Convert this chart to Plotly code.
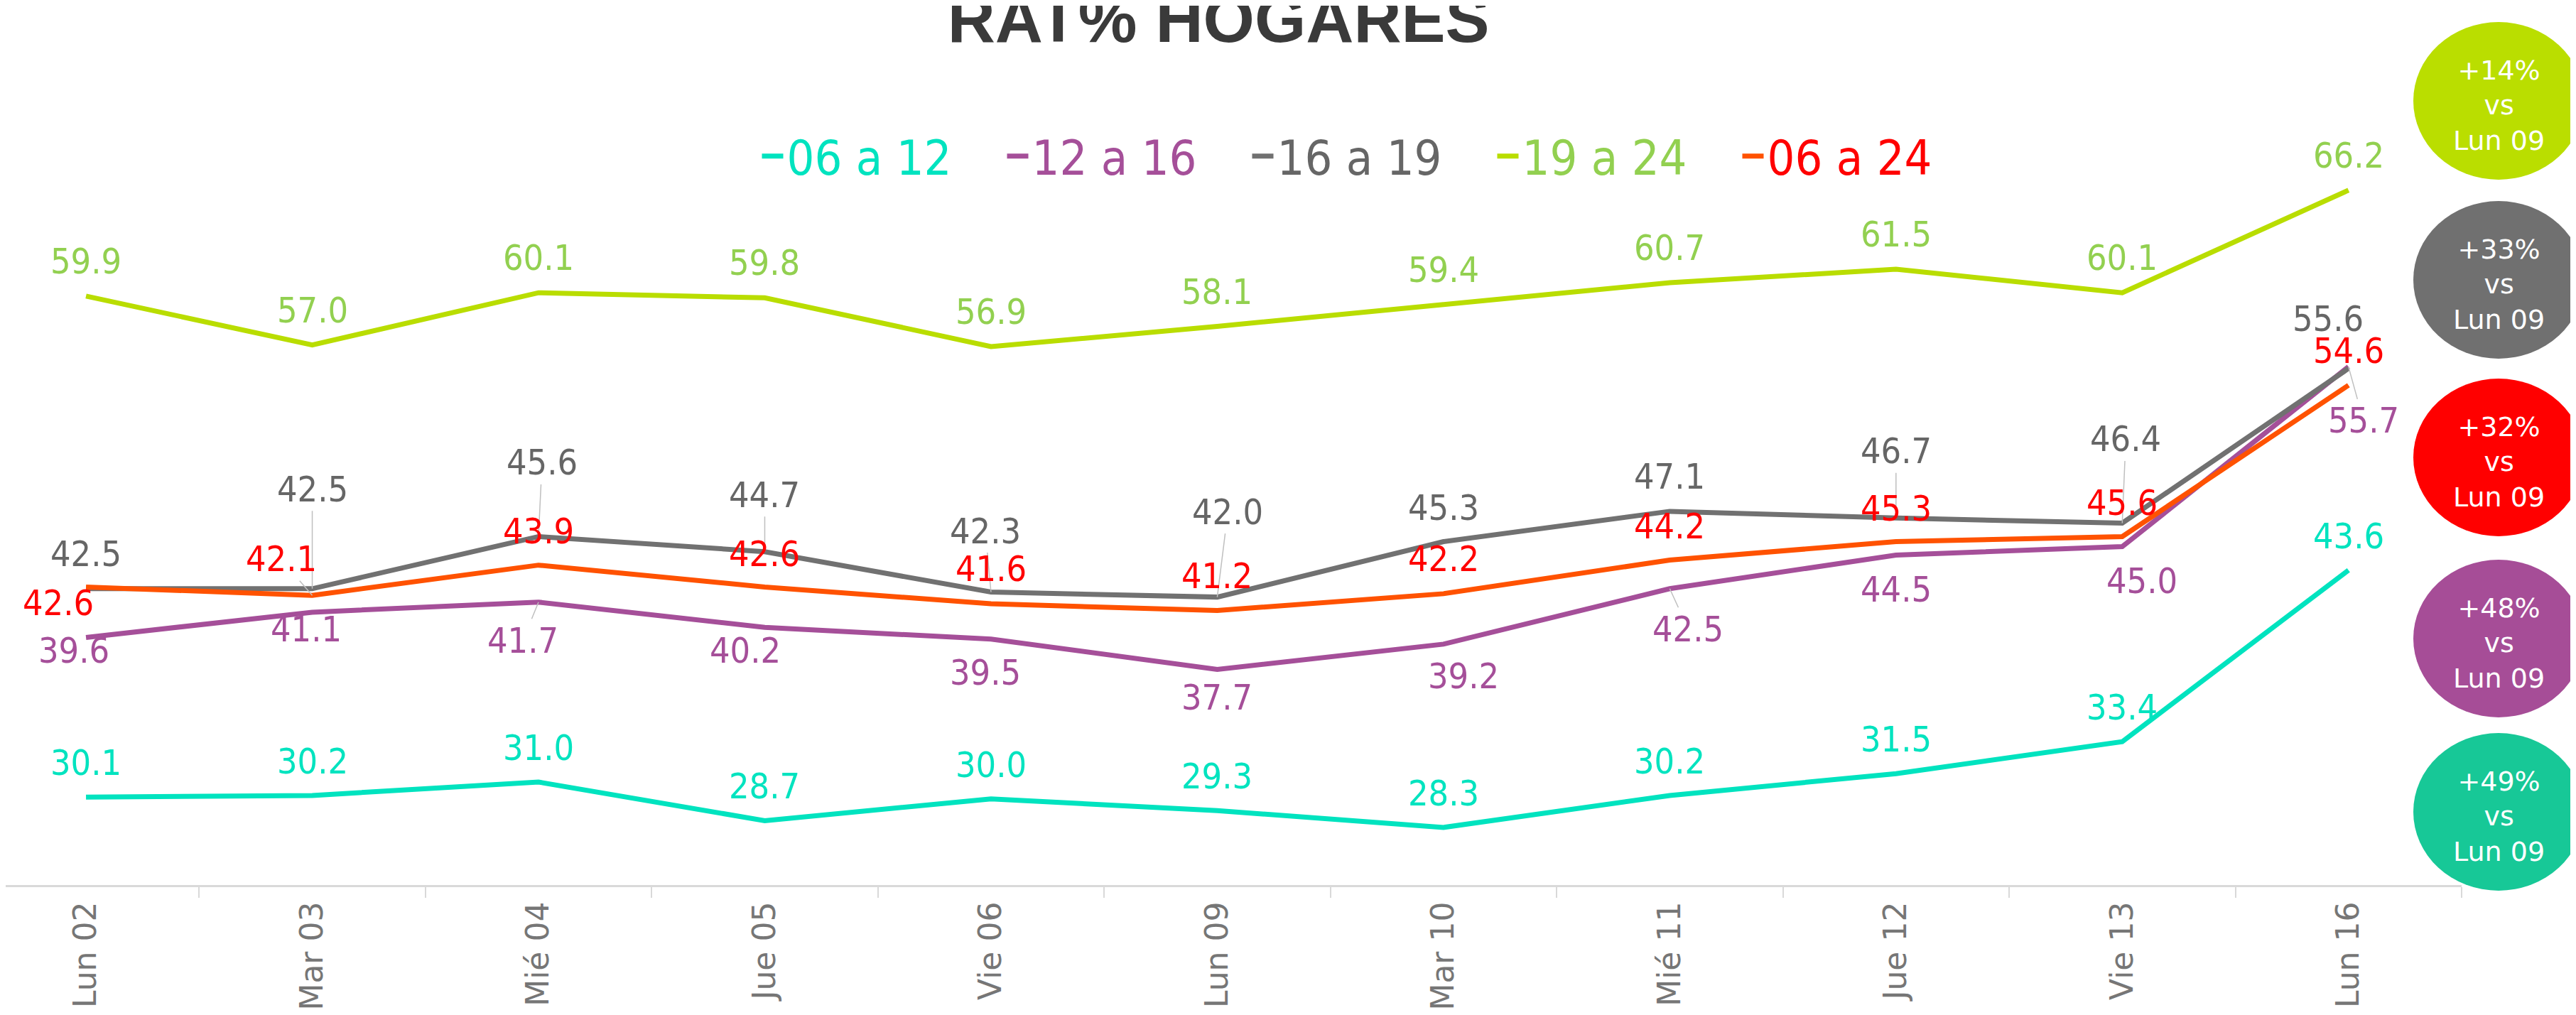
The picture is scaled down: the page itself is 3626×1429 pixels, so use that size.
import plotly.graph_objects as go

# --- data -------------------------------------------------------------
categories = ["Lun 02", "Mar 03", "Mié 04", "Jue 05", "Vie 06", "Lun 09",
              "Mar 10", "Mié 11", "Jue 12", "Vie 13", "Lun 16"]

rat_06_12 = [30.1, 30.2, 31.0, 28.7, 30.0, 29.3, 28.3, 30.2, 31.5, 33.4, 43.6]
rat_12_16 = [39.6, 41.1, 41.7, 40.2, 39.5, 37.7, 39.2, 42.5, 44.5, 45.0, 55.7]
rat_16_19 = [42.5, 42.5, 45.6, 44.7, 42.3, 42.0, 45.3, 47.1, 46.7, 46.4, 55.6]
rat_19_24 = [59.9, 57.0, 60.1, 59.8, 56.9, 58.1, 59.4, 60.7, 61.5, 60.1, 66.2]
rat_06_24 = [42.6, 42.1, 43.9, 42.6, 41.6, 41.2, 42.2, 44.2, 45.3, 45.6, 54.6]

series_names = ["06 a 12", "12 a 16", "16 a 19", "19 a 24", "06 a 24"]

# growth vs Lun 09, top to bottom
growth_labels = ["+14%", "+33%", "+32%", "+48%", "+49%"]

# --- styles -------------------------------------------------------------
line_colors = ["#00e3bf", "#a54f99", "#717171", "#b9dd00", "#ff5200"]
label_colors = ["#00e3bf", "#a54f99", "#666666", "#92d050", "#ff0000"]
circle_colors = ["#bade00", "#707070", "#ff0000", "#a64d97", "#17c897"]

# label offsets in screen px (dx, dy down) and leader-line flags
off_06_12 = [(0, -48)] * 11
off_12_16 = [(-17, 19), (-9, 24), (-22, 54), (-27, 33), (-8, 47), (0, 40),
             (28, 45), (26, 57), (0, 49), (28, 48), (21, 76)]
off_16_19 = [(0, -49), (0, -140), (5, -104), (0, -80), (-8, -86), (15, -120),
             (0, -48), (0, -49), (0, -94), (5, -118), (-29, -70)]
off_19_24 = [(0, -49)] * 11
off_06_24 = [(-39, 23), (-44, -51), (0, -48), (0, -46), (0, -49), (0, -49),
             (0, -49), (0, -48), (0, -47), (0, -47), (0, -48)]

lead_12_16 = [0, 0, 1, 0, 0, 0, 0, 1, 0, 0, 1]
lead_16_19 = [0, 1, 1, 1, 1, 1, 0, 0, 1, 1, 0]
lead_06_24 = [0, 1, 0, 0, 0, 0, 0, 0, 0, 0, 0]
no_lead = [0] * 11

W, H = 3626, 1429
ML, MR, MT, MB = 0, 169, 96, 191
PW, PH = W - ML - MR, H - MT - MB

LABEL_FONT = "DejaVu Sans Condensed, DejaVu Sans, sans-serif"


def px_x(px):
    return (px - ML) / PW


def px_y(py):
    return (H - MB - py) / PH


series = [
    (rat_06_12, off_06_12, no_lead),
    (rat_12_16, off_12_16, lead_12_16),
    (rat_16_19, off_16_19, lead_16_19),
    (rat_19_24, off_19_24, no_lead),
    (rat_06_24, off_06_24, lead_06_24),
]

fig = go.Figure()
annotations = []

for k, (vals, offs, leads) in enumerate(series):
    fig.add_trace(go.Scatter(
        x=categories, y=vals, mode="lines",
        name="<span style='color:%s'>%s</span>" % (label_colors[k], series_names[k]),
        line=dict(color=line_colors[k], width=7),
        hoverinfo="skip",
    ))
    for i, v in enumerate(vals):
        dx, dy = offs[i]
        a = dict(x=categories[i], y=v, text="%.1f" % v,
                 xanchor="center", yanchor="middle",
                 font=dict(family=LABEL_FONT, size=50, color=label_colors[k]))
        if leads[i]:
            a.update(showarrow=True, ax=dx, ay=dy, arrowhead=0, arrowwidth=1.5,
                     arrowcolor="#bfbfbf", standoff=0, startstandoff=0)
        else:
            a.update(showarrow=False, xshift=dx, yshift=-dy)
        annotations.append(a)

# comparison bubbles on the right
shapes = []
circle_cy = [134, 386, 636, 891, 1135]
cx, rx, ry = 3509, 120, 111
for lab, col, cy in zip(growth_labels, circle_colors, circle_cy):
    shapes.append(dict(type="circle", xref="paper", yref="paper",
                       x0=px_x(cx - rx), x1=px_x(cx + rx),
                       y0=px_y(cy + ry), y1=px_y(cy - ry),
                       fillcolor=col, line=dict(width=0), layer="below"))
    annotations.append(dict(xref="paper", yref="paper", x=px_x(cx), y=px_y(cy),
                            xanchor="center", yanchor="middle", align="center",
                            text=lab + "<br>vs<br>Lun 09", showarrow=False,
                            yshift=-6,
                            font=dict(family="DejaVu Sans", size=38, color="white")))

fig.update_layout(
    width=W, height=H,
    margin=dict(l=ML, r=MR, t=MT, b=MB),
    paper_bgcolor="white", plot_bgcolor="rgba(0,0,0,0)",
    title=dict(text="<b>RAT% HOGARES</b>", xref="container", yref="container",
               x=0.4708, xanchor="center", y=0.9873, yanchor="middle",
               font=dict(family="Liberation Sans, Arial", size=93, color="#3a3a3a")),
    legend=dict(orientation="h", x=px_x(1922), xanchor="center",
                y=px_y(212), yanchor="middle",
                font=dict(family=LABEL_FONT, size=68),
                entrywidth=300, entrywidthmode="pixels",
                bgcolor="rgba(0,0,0,0)"),
    xaxis=dict(type="category", range=[-0.355, 10.5], tickson="boundaries",
               ticks="outside", ticklen=15, tickcolor="#d9d9d9", tickwidth=2,
               showline=True, linecolor="#d9d9d9", linewidth=3,
               showgrid=False, zeroline=False, tickangle=-90,
               ticklabelstandoff=3, automargin=False,
               tickfont=dict(family="DejaVu Sans", size=44, color="#767676")),
    yaxis=dict(range=[24.874, 73.12], visible=False, showgrid=False,
               automargin=False),
    shapes=shapes,
    annotations=annotations,
    hovermode=False,
)

fig.write_html("out.html")
